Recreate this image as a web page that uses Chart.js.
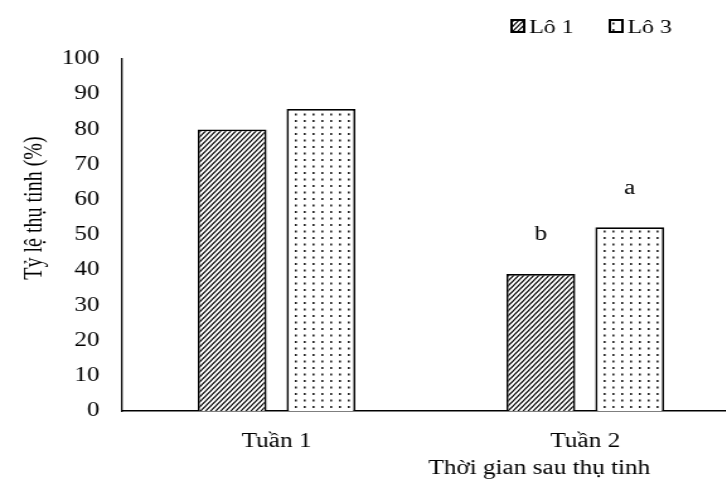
<!DOCTYPE html>
<html>
<head>
<meta charset="utf-8">
<script src="https://cdn.jsdelivr.net/npm/chart.js@4"></script>
<style>
    html, body { margin: 0; padding: 0; background: #fff; overflow: hidden; }
    #wrap { width: 726px; height: 479px; overflow: hidden; }
    /* the source figure is stretched sideways, so the whole canvas is too */
    #fertChart { transform: scaleX(1.26); transform-origin: 0 0; }
</style>
</head>
<body>
<div id="wrap"><canvas id="fertChart" width="610" height="479"></canvas></div>
<script>
const categories = ['Tuần 1', 'Tuần 2'];
const lot1 = [80, 38.9];
const lot3 = [85.8, 52.2];
const lot1Letters = ['', 'b'];
const lot3Letters = ['', 'a'];
const yTicks = [0, 10, 20, 30, 40, 50, 60, 70, 80, 90, 100];

const FONT = "'Liberation Serif', 'Times New Roman', serif";

function makeHatch() {
    const c = document.createElement('canvas');
    c.width = 4; c.height = 5;
    const g = c.getContext('2d');
    g.fillStyle = '#fff';
    g.fillRect(0, 0, 4, 5);
    g.strokeStyle = '#000';
    g.lineWidth = 1.1;
    g.beginPath();
    g.moveTo(-0.8, 6); g.lineTo(4.8, -1);
    g.moveTo(-0.8, 1); g.lineTo(0.8, -1);
    g.moveTo(3.2, 6); g.lineTo(4.8, 4);
    g.stroke();
    return g.createPattern(c, 'repeat');
}

function makeDots() {
    const c = document.createElement('canvas');
    c.width = 7; c.height = 13;
    const g = c.getContext('2d');
    g.fillStyle = '#fff';
    g.fillRect(0, 0, 7, 13);
    g.fillStyle = '#222';
    g.fillRect(3, 3, 1.6, 2);
    g.fillRect(3, 9.5, 1.6, 2);
    return g.createPattern(c, 'repeat');
}

const hatch = makeHatch();
const dots = makeDots();

// letters above bars, axis titles, legend
const extrasPlugin = {
    id: 'extras',
    afterDatasetsDraw(chart) {
        const ctx = chart.ctx;
        ctx.save();
        ctx.fillStyle = '#000';
        ctx.font = '20px ' + FONT;
        ctx.textAlign = 'center';
        ctx.textBaseline = 'middle';
        [lot1Letters, lot3Letters].forEach((letters, di) => {
            const meta = chart.getDatasetMeta(di);
            meta.data.forEach((bar, i) => {
                if (letters[i]) ctx.fillText(letters[i], bar.x, bar.y - 39);
            });
        });

        // x title
        ctx.fillText('Thời gian sau thụ tinh', 428, 469);

        // y title
        ctx.save();
        ctx.translate(28, 208);
        ctx.rotate(-Math.PI / 2);
        ctx.fillText('Tỷ lệ thụ tinh (%)', 0, 0);
        ctx.restore();

        // legend
        const items = [
            { label: 'Lô 1', fill: hatch, x: 406 },
            { label: 'Lô 3', fill: dots, x: 484 }
        ];
        ctx.font = '19px ' + FONT;
        ctx.textAlign = 'left';
        items.forEach(it => {
            ctx.fillStyle = it.fill;
            ctx.fillRect(it.x, 20, 10, 12);
            ctx.strokeStyle = '#000';
            ctx.lineWidth = 2;
            ctx.strokeRect(it.x, 20, 10, 12);
            ctx.fillStyle = '#000';
            ctx.fillText(it.label, it.x + 14, 28);
        });
        ctx.restore();
    }
};

new Chart(document.getElementById('fertChart').getContext('2d'), {
    type: 'bar',
    data: {
        labels: categories,
        datasets: [{
            label: 'Lô 1',
            data: lot1,
            backgroundColor: hatch,
            borderColor: '#000',
            borderWidth: 1.8,
            categoryPercentage: 0.576,
            barPercentage: 0.775
        }, {
            label: 'Lô 3',
            data: lot3,
            backgroundColor: dots,
            borderColor: '#000',
            borderWidth: 1.8,
            categoryPercentage: 0.576,
            barPercentage: 0.775
        }]
    },
    options: {
        responsive: false,
        animation: false,
        layout: { padding: { left: 0, top: 59, right: 23, bottom: 0 } },
        plugins: {
            legend: { display: false },
            tooltip: { enabled: false }
        },
        scales: {
            x: {
                grid: { display: false, drawTicks: false },
                border: { display: true, color: '#000', width: 1.5 },
                ticks: { color: '#000', font: { family: FONT, size: 20 }, padding: 19 },
                afterFit: scale => { scale.height = 68; }
            },
            y: {
                min: 0,
                max: 100,
                afterBuildTicks: scale => { scale.ticks = yTicks.map(v => ({ value: v })); },
                grid: { display: false, drawTicks: false },
                border: { display: true, color: '#000', width: 1.3 },
                ticks: { color: '#000', font: { family: FONT, size: 20 }, padding: 18 },
                afterFit: scale => { scale.width = 97; }
            }
        }
    },
    plugins: [extrasPlugin]
});
</script>
</body>
</html>
